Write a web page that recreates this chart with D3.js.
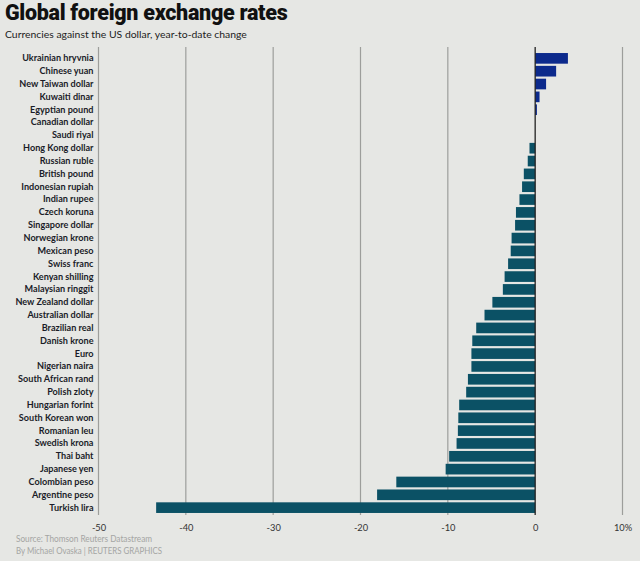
<!DOCTYPE html>
<html>
<head>
<meta charset="utf-8">
<script src="https://cdn.jsdelivr.net/npm/d3@7"></script>
<style>
  body { margin: 0; background: #e6e7e4; }
  svg { display: block; }
</style>
</head>
<body>
<svg id="chart"></svg>
<script>
// Year-to-date change vs US dollar, % (read from the Reuters graphic)

const currencies = [
  "Ukrainian hryvnia", "Chinese yuan", "New Taiwan dollar", "Kuwaiti dinar",
  "Egyptian pound", "Canadian dollar", "Saudi riyal", "Hong Kong dollar",
  "Russian ruble", "British pound", "Indonesian rupiah", "Indian rupee",
  "Czech koruna", "Singapore dollar", "Norwegian krone", "Mexican peso",
  "Swiss franc", "Kenyan shilling", "Malaysian ringgit", "New Zealand dollar",
  "Australian dollar", "Brazilian real", "Danish krone", "Euro",
  "Nigerian naira", "South African rand", "Polish zloty", "Hungarian forint",
  "South Korean won", "Romanian leu", "Swedish krona", "Thai baht",
  "Japanese yen", "Colombian peso", "Argentine peso", "Turkish lira"
];

const changes = [
  3.75, 2.4, 1.25, 0.5,
  0.2, 0, 0, -0.65,
  -0.85, -1.3, -1.5, -1.8,
  -2.2, -2.3, -2.7, -2.8,
  -3.1, -3.5, -3.7, -4.9,
  -5.8, -6.75, -7.2, -7.3,
  -7.3, -7.7, -7.9, -8.7,
  -8.8, -8.85, -9.0, -9.85,
  -10.25, -15.9, -18.1, -43.4
];

const tickValues = [-50, -40, -30, -20, -10, 0, 10];
const tickLabels = ["-50", "-40", "-30", "-20", "-10", "0", "10%"];

const width = 640, height = 561;
const margin = { top: 52, right: 17.5, bottom: 47, left: 98.5 };

const svg = d3.select("#chart")
  .attr("width", width)
  .attr("height", height);

svg.append("rect")
  .attr("width", width)
  .attr("height", height)
  .attr("fill", "#e6e7e4");

const x = d3.scaleLinear()
  .domain([-50, 10])
  .range([margin.left, width - margin.right]);

const y = d3.scaleBand()
  .domain(currencies)
  .range([margin.top, height - margin.bottom])
  .paddingInner(0.17)
  .paddingOuter(0.08);

// gridlines
svg.append("g")
  .selectAll("line")
  .data(tickValues.filter(d => d !== 0))
  .join("line")
  .attr("x1", d => x(d))
  .attr("x2", d => x(d))
  .attr("y1", 47)
  .attr("y2", 515)
  .attr("stroke", "#9d9e9b")
  .attr("stroke-width", 1.2);

// bars
svg.append("g")
  .selectAll("rect")
  .data(currencies.map((c, i) => ({ name: c, value: changes[i] })))
  .join("rect")
  .attr("x", d => x(Math.min(0, d.value)))
  .attr("y", d => y(d.name))
  .attr("width", d => Math.abs(x(d.value) - x(0)))
  .attr("height", y.bandwidth())
  .attr("fill", d => d.value >= 0 ? "#0c2a8c" : "#0b5165");

// zero line
svg.append("line")
  .attr("x1", x(0))
  .attr("x2", x(0))
  .attr("y1", 47)
  .attr("y2", 515)
  .attr("stroke", "#222")
  .attr("stroke-width", 1.3);

// category labels
const yAxis = svg.append("g")
  .attr("transform", `translate(${margin.left - 5},0)`)
  .call(d3.axisLeft(y).tickSize(0).tickPadding(0));
yAxis.select(".domain").remove();
yAxis.selectAll("text")
  .attr("font-family", "Lato, sans-serif")
  .attr("font-weight", "bold")
  .attr("font-size", 9.1)
  .attr("fill", "#1a1c28");

// x axis labels
const xAxis = svg.append("g")
  .attr("transform", `translate(0,${height - margin.bottom})`)
  .call(d3.axisBottom(x)
    .tickValues(tickValues)
    .tickFormat((d, i) => tickLabels[i])
    .tickSize(0)
    .tickPadding(10));
xAxis.select(".domain").remove();
xAxis.selectAll("text")
  .attr("font-family", "Lato, sans-serif")
  .attr("font-size", 9.3)
  .attr("fill", "#333");

// titles
svg.append("text")
  .attr("x", 5)
  .attr("y", 19.5)
  .attr("font-family", "Roboto, sans-serif")
  .attr("font-weight", 900)
  .attr("font-size", 21.5)
  .attr("letter-spacing", -0.3)
  .attr("fill", "#111")
  .text("Global foreign exchange rates");

svg.append("text")
  .attr("x", 5)
  .attr("y", 38)
  .attr("font-family", "Lato, sans-serif")
  .attr("font-size", 10.4)
  .attr("fill", "#222")
  .text("Currencies against the US dollar, year-to-date change");

// footer
svg.append("text")
  .attr("x", 16)
  .attr("y", 542)
  .attr("font-family", "Lato, sans-serif")
  .attr("font-size", 8.8)
  .attr("textLength", 136)
  .attr("lengthAdjust", "spacingAndGlyphs")
  .attr("fill", "#a4a5a3")
  .text("Source: Thomson Reuters Datastream");

svg.append("text")
  .attr("x", 16)
  .attr("y", 554)
  .attr("font-family", "Lato, sans-serif")
  .attr("font-size", 8.8)
  .attr("textLength", 146)
  .attr("lengthAdjust", "spacingAndGlyphs")
  .attr("fill", "#a4a5a3")
  .text("By Michael Ovaska | REUTERS GRAPHICS");
</script>
</body>
</html>
